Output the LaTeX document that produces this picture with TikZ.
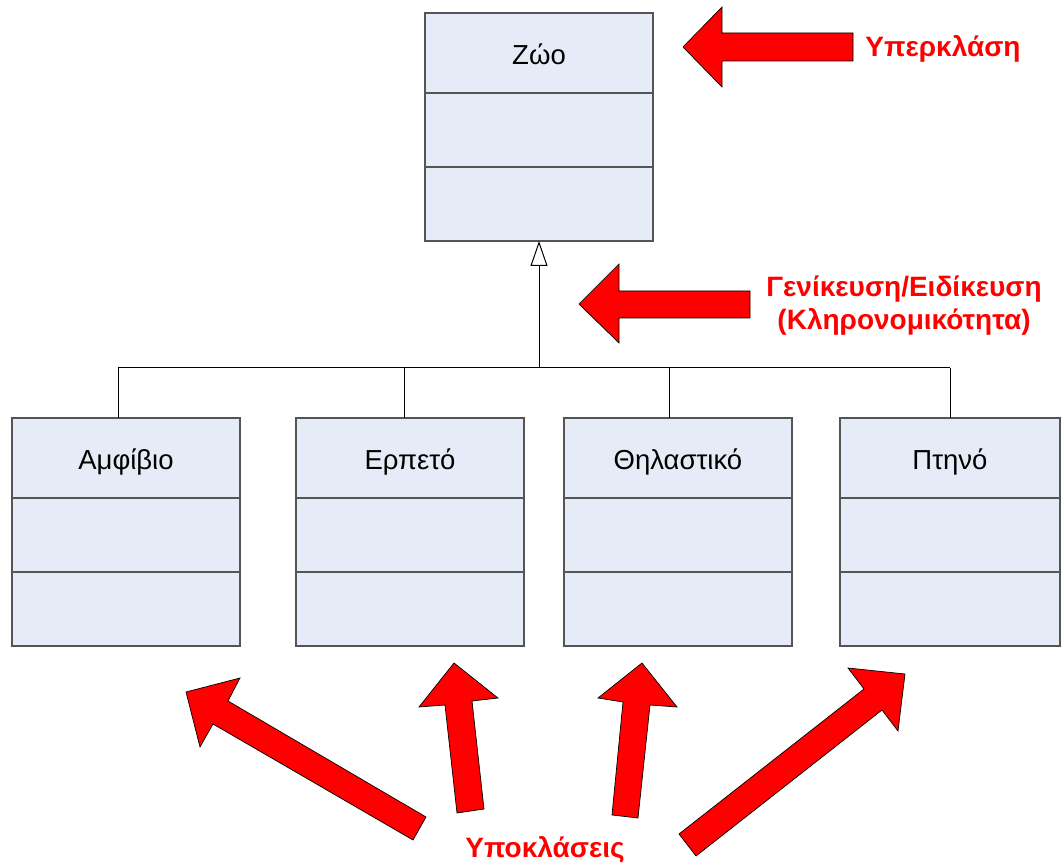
\documentclass[tikz,border=0pt]{standalone}
\usepackage{fontspec}
\setmainfont{Liberation Sans}
\usetikzlibrary{arrows.meta,calc}
\definecolor{boxfill}{RGB}{230,236,247}
\definecolor{boxline}{RGB}{85,85,85}
\definecolor{hred}{RGB}{255,0,0}
\begin{document}
\begin{tikzpicture}[x=1pt,y=-1pt,
  cls/.style={draw=boxline, fill=boxfill, line width=1.3pt, rectangle, inner sep=0pt, outer sep=0pt, anchor=north west, minimum height=228pt},
  divider/.style={draw=boxline, line width=1.3pt},
  lbl/.style={font=\fontsize{27.5}{32}\selectfont, text=black, anchor=base, inner sep=0pt},
  redlbl/.style={font=\fontsize{28}{33}\selectfont\bfseries, text=hred, anchor=base, inner sep=0pt},
  conn/.style={draw=black, line width=1pt},
  bigarrow/.style={fill=hred, draw=black, line width=0.7pt, line join=miter}]
\useasboundingbox (0,0) rectangle (1061,866);
% classes
\node[cls, minimum width=228pt] (zoo) at (425,13) {};
\node[cls, minimum width=228pt] (amf) at (12,418) {};
\node[cls, minimum width=228pt] (erp) at (296,418) {};
\node[cls, minimum width=228pt] (thi) at (564,418) {};
\node[cls, minimum width=220pt] (pti) at (840,418) {};
\foreach \b in {zoo,amf,erp,thi,pti}{
  \draw[divider] ($(\b.north west)+(0,80)$) -- ($(\b.north east)+(0,80)$);
  \draw[divider] ($(\b.north west)+(0,154)$) -- ($(\b.north east)+(0,154)$);
}
\node[lbl] (tzoo) at ($(zoo.north)+(0,52)$) {Ζώο};
\node[lbl] (tamf) at ($(amf.north)+(0,52)$) {Αμφίβιο};
\node[lbl] (terp) at ($(erp.north)+(0,52)$) {Ερπετό};
\node[lbl] (tthi) at ($(thi.north)+(0,52)$) {Θηλαστικό};
\node[lbl] (tpti) at ($(pti.north)+(0,52)$) {Πτηνό};
% generalization connectors
\coordinate (j) at (539,368);
\coordinate (da) at (118,368);
\coordinate (de) at (404,368);
\coordinate (dt) at (669,368);
\coordinate (dp) at (950,368);
\draw[conn, {Triangle[open, length=25pt, width=17pt, fill=white]}-] (zoo.south) -- (j);
\draw[conn] (da) -- (dp);
\draw[conn] (da) -- (da |- amf.north);
\draw[conn] (de) -- (de |- erp.north);
\draw[conn] (dt) -- (dt |- thi.north);
\draw[conn] (dp) -- (dp |- pti.north);
% red block arrows
\filldraw[bigarrow] (683,47) -- (722,7) -- (722,33) -- (853,33) -- (853,61) -- (722,61) -- (722,87) -- cycle;
\filldraw[bigarrow] (579,304) -- (619,264) -- (619,291) -- (750,291) -- (750,318) -- (619,318) -- (619,343) -- cycle;
\filldraw[bigarrow] (186,692) -- (240,678) -- (228,701) -- (426,817) -- (413,840) -- (213,724) -- (200,747) -- cycle;
\filldraw[bigarrow] (454,663) -- (498,698) -- (472,701) -- (484,809) -- (457,813) -- (445,705) -- (419,707) -- cycle;
\filldraw[bigarrow] (642,663) -- (677,707) -- (650,705) -- (638,818) -- (612,815) -- (623,702) -- (598,698) -- cycle;
\filldraw[bigarrow] (905,674) -- (898,731) -- (882,710) -- (696,856) -- (679,834) -- (864,689) -- (848,668) -- cycle;
% red labels
\node[redlbl] (lsuper) at (943,57) {Υπερκλάση};
\node[redlbl] (lgen1) at (904,297) {Γενίκευση/Ειδίκευση};
\node[redlbl] (lgen2) at (904,330) {(Κληρονομικότητα)};
\node[redlbl] (lsub) at (545,857) {Υποκλάσεις};
\end{tikzpicture}
\end{document}
